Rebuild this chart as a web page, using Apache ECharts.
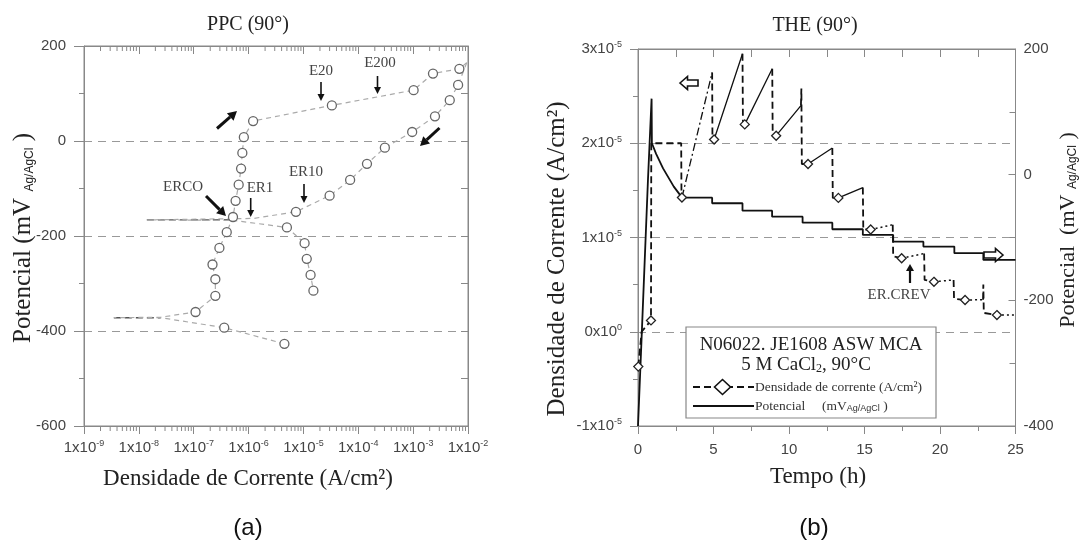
<!DOCTYPE html>
<html><head><meta charset="utf-8">
<script src="https://cdn.jsdelivr.net/npm/echarts@6/dist/echarts.min.js"></script>
<style>html,body{margin:0;padding:0;background:#fff}#c{width:1081px;height:545px}</style>
</head><body><div id="c"></div><script>
// ---------- Panel (a): PPC (90°) ----------
// forward (anodic) scan: current density (A/cm2), potential (mV), marker flag
const fwdI = [4.5e-6, 3.6e-7, 2.5e-8, 3.5e-9, 2.5e-8, 1.08e-7, 2.48e-7, 2.48e-7, 2.2e-7, 2.94e-7, 4.0e-7, 5.2e-7, 5.8e-7, 6.6e-7, 7.3e-7, 7.7e-7, 8.2e-7, 1.21e-6, 3.3e-5, 1.02e-3, 2.3e-3, 6.96e-3, 9.5e-3];
const fwdE = [-427, -393, -372, -372, -371, -360, -326, -291, -260, -225, -192, -160, -126, -92, -58, -25, 8, 42, 75, 107, 142, 152, 165];
const fwdMark = [1, 1, 0, 0, 0, 1, 1, 1, 1, 1, 1, 1, 1, 1, 1, 1, 1, 1, 1, 1, 1, 1, 0];
// reverse scan
const revI = [9.5e-3, 6.6e-3, 4.65e-3, 2.5e-3, 9.6e-4, 3.05e-4, 1.44e-4, 7.1e-5, 3.0e-5, 7.3e-6, 1.23e-6, 1.4e-8, 5.2e-7, 5.0e-6, 1.05e-5, 1.15e-5, 1.35e-5, 1.52e-5];
const revE = [165, 118, 86, 52, 19, -14, -48, -82, -115, -149, -163, -166, -167, -182, -215, -248, -282, -315];
const revMark = [0, 1, 1, 1, 1, 1, 1, 1, 1, 1, 0, 0, 0, 1, 1, 1, 1, 1];
// zero-current crossings (Ecorr and ERCO), drawn darker
const zeroI = [3.5e-9, 2.5e-8, null, 1.4e-8, 4.8e-7];
const zeroE = [-372, -372, null, -166, -166];

// ---------- Panel (b): THE (90°) ----------
// potential vs time (h, mV Ag/AgCl)
const potT = [0, 0.26, 0.66, 0.9, 0.92, 1.2, 1.66, 2.37, 2.92, 4.91, 4.91, 6.92, 6.92, 8.88, 8.88, 10.9, 10.9, 12.87, 12.87, 14.89, 14.89, 16.9, 16.9, 18.9, 18.9, 20.95, 20.95, 22.87, 22.87, 25];
const potE = [-400, -247, -8, 121, 50, 33, 10, -19, -36.6, -36.6, -45.5, -45.5, -57.3, -57.3, -66.8, -66.8, -76.4, -76.4, -86.9, -86.9, -95.9, -95.9, -106.6, -106.6, -114.5, -114.5, -125, -125, -135.7, -135.7];
// current density vs time (h, units of 1e-5 A/cm2): start, steps and drops (dashed); null = gap
const curT = [0.02, 0.24, 0.86, 0.88, 2.86, 2.88, 2.91, null, 4.91, 4.93, 5.04, null, 6.92, 6.95, 7.07, null, 8.89, 8.92, 9.15, null, 10.79, 10.82, 10.85, 11.26, null, 12.87, 12.9, 13.27, null, 14.89, 14.92, 15.41, null, 16.87, 16.9, 17.46, null, 18.95, 18.98, 19.6, null, 20.9, 20.93, 21.66, null, 22.85, 22.87, 22.9, 23.77];
const curI = [-0.37, 0.0, 0.12, 2.0, 2.0, 1.45, 1.424, null, 2.75, 2.04, 2.04, null, 2.95, 2.2, 2.2, null, 2.79, 2.08, 2.08, null, 2.40, 2.58, 1.78, 1.78, null, 1.95, 1.42, 1.42, null, 1.53, 1.085, 1.085, null, 1.135, 0.8, 0.78, null, 0.83, 0.55, 0.53, null, 0.55, 0.35, 0.337, null, 0.34, 0.5, 0.2, 0.177];
const curMark = [1, 0, 1, 0, 0, 0, 1, 0, 0, 0, 1, 0, 0, 0, 1, 0, 0, 0, 1, 0, 0, 0, 0, 1, 0, 0, 0, 1, 0, 0, 0, 1, 0, 0, 0, 1, 0, 0, 0, 1, 0, 0, 0, 1, 0, 0, 0, 0, 1];
// rising segments between hold steps
const riseDashDotT = [2.91, 4.91];
const riseDashDotI = [1.424, 2.75];
const riseSolidT = [5.04, 6.92, null, 7.07, 8.89, null, 9.15, 10.79, null, 11.26, 12.87, null, 13.27, 14.89];
const riseSolidI = [2.04, 2.95, null, 2.2, 2.79, null, 2.08, 2.40, null, 1.78, 1.95, null, 1.42, 1.53];
const riseDotT = [15.41, 16.87, null, 17.46, 18.95, null, 19.6, 20.9, null, 21.66, 22.85, null, 23.77, 25];
const riseDotI = [1.085, 1.135, null, 0.78, 0.83, null, 0.53, 0.55, null, 0.337, 0.34, null, 0.177, 0.177];

const SERIF = 'Liberation Serif';
const SANS = 'Liberation Sans';
const AX = '#888';
const TXT = '#444';

function pts(xs, ys, marks, scale) {
  return xs.map((x, i) => {
    if (x === null || ys[i] === null) return { value: ['-', '-'], symbol: 'none' };
    const d = { value: [x, ys[i] * (scale || 1)] };
    if (!(marks && marks[i])) d.symbol = 'none';
    return d;
  });
}
const minorLog = [];
for (let e = -9; e < -2; e++) for (let m = 2; m <= 9; m++) minorLog.push([m * Math.pow(10, e), -600]);

const supRich = {
  b: { fontFamily: SANS, fontSize: 15, color: TXT },
  s: { fontFamily: SANS, fontSize: 9, color: TXT, verticalAlign: 'top', padding: [0, 0, 8, 0] }
};

function arrow(x1, y1, x2, y2, w, hl, hw) {
  const dx = x2 - x1, dy = y2 - y1, L = Math.hypot(dx, dy), ux = dx / L, uy = dy / L;
  const bx = x2 - ux * hl, by = y2 - uy * hl;
  return [
    { type: 'line', z: 50, shape: { x1, y1, x2: bx, y2: by }, style: { stroke: '#111', lineWidth: w } },
    { type: 'polygon', z: 50, shape: { points: [[x2, y2], [bx - uy * hw, by + ux * hw], [bx + uy * hw, by - ux * hw]] }, style: { fill: '#111' } }
  ];
}
function label(text, x, y, size, font, color, extra) {
  return Object.assign({ type: 'text', z: 50, x, y, style: { text, fontFamily: font, fontSize: size, fill: color, align: 'center', verticalAlign: 'middle' } }, extra || {});
}
const axLine = { onZero: false, lineStyle: { color: AX } };
function riseSeries(xs, ys, type, width) {
  return { type: 'line', xAxisIndex: 2, yAxisIndex: 2, data: pts(xs, ys, null, 1e-5), symbol: 'none',
    connectNulls: false, lineStyle: { color: '#111', width, type }, z: 3 };
}

const chart = echarts.init(document.getElementById('c'), null, { renderer: 'canvas' });
const option = {
  animation: false,
  backgroundColor: '#fff',
  grid: [
    { left: 84, top: 46, width: 384, height: 380, show: true, borderColor: AX, borderWidth: 1 },
    { left: 638, top: 49, width: 377.5, height: 377, show: true, borderColor: AX, borderWidth: 1 }
  ],
  xAxis: [
    { gridIndex: 0, type: 'log', logBase: 10, min: 1e-9, max: 1e-2, position: 'bottom',
      axisLine: axLine, axisTick: { length: 8, lineStyle: { color: AX } },
      splitLine: { show: false },
      axisLabel: { margin: 13, rich: supRich, formatter: v => '{b|1x10}{s|' + Math.round(Math.log10(v)) + '}' } },
    { gridIndex: 0, type: 'log', logBase: 10, min: 1e-9, max: 1e-2, position: 'top',
      axisLine: axLine, axisTick: { inside: true, length: 8, lineStyle: { color: AX } },
      splitLine: { show: false }, axisLabel: { show: false } },
    { gridIndex: 1, type: 'value', min: 0, max: 25, interval: 5, position: 'bottom',
      axisLine: axLine, axisTick: { length: 8, lineStyle: { color: AX } },
      minorTick: { show: true, splitNumber: 2, length: 5, lineStyle: { color: AX } },
      splitLine: { show: false },
      axisLabel: { margin: 16, fontFamily: SANS, fontSize: 15, color: TXT } },
    { gridIndex: 1, type: 'value', min: 0, max: 25, interval: 2.5, position: 'top',
      axisLine: axLine, axisTick: { inside: true, length: 8, lineStyle: { color: AX } },
      splitLine: { show: false }, axisLabel: { show: false } }
  ],
  yAxis: [
    { gridIndex: 0, type: 'value', min: -600, max: 200, interval: 200, position: 'left',
      axisLine: axLine, axisTick: { length: 10, lineStyle: { color: AX } },
      minorTick: { show: true, splitNumber: 2, length: 5, lineStyle: { color: AX } },
      splitLine: { show: true, showMinLine: false, showMaxLine: false, lineStyle: { color: '#999', width: 1.2, type: [8, 6] } },
      axisLabel: { margin: 18, fontFamily: SANS, fontSize: 15, color: TXT } },
    { gridIndex: 0, type: 'value', min: -600, max: 200, interval: 100, position: 'right',
      axisLine: axLine, axisTick: { inside: true, length: 7, lineStyle: { color: AX } },
      splitLine: { show: false }, axisLabel: { show: false } },
    { gridIndex: 1, type: 'value', min: -1e-5, max: 3e-5, interval: 1e-5, position: 'left',
      axisLine: axLine, axisTick: { length: 8, lineStyle: { color: AX } },
      minorTick: { show: true, splitNumber: 2, length: 5, lineStyle: { color: AX } },
      splitLine: { show: true, showMinLine: false, showMaxLine: false, lineStyle: { color: '#999', width: 1.2, type: [8, 6] } },
      axisLabel: { margin: 16, rich: supRich, formatter: v => { const n = Math.round(v / 1e-5); return n === 0 ? '{b|0x10}{s|0}' : '{b|' + n + 'x10}{s|-5}'; } } },
    { gridIndex: 1, type: 'value', min: -400, max: 200, interval: 200, position: 'right',
      axisLine: axLine, axisTick: { inside: true, length: 7, lineStyle: { color: AX } },
      minorTick: { show: true, splitNumber: 2, length: 6, lineStyle: { color: AX } },
      splitLine: { show: false },
      axisLabel: { margin: 8, fontFamily: SANS, fontSize: 15, color: TXT } }
  ],
  series: [
    { type: 'custom', xAxisIndex: 0, yAxisIndex: 0, silent: true, clip: false, data: minorLog, z: 5,
      renderItem: (p, api) => {
        const v = api.value(0);
        const b = api.coord([v, -600]), t = api.coord([v, 200]);
        return { type: 'group', children: [
          { type: 'line', shape: { x1: b[0], y1: b[1], x2: b[0], y2: b[1] + 5 }, style: { stroke: AX, lineWidth: 1 } },
          { type: 'line', shape: { x1: t[0], y1: t[1], x2: t[0], y2: t[1] + 5 }, style: { stroke: AX, lineWidth: 1 } }
        ] };
      } },
    { name: 'zero', type: 'line', xAxisIndex: 0, yAxisIndex: 0, data: pts(zeroI, zeroE, null), symbol: 'none',
      connectNulls: false, lineStyle: { color: '#555', width: 1.5, type: [7, 4] }, z: 3 },
    { name: 'forward', type: 'line', xAxisIndex: 0, yAxisIndex: 0, data: pts(fwdI, fwdE, fwdMark),
      symbol: 'circle', symbolSize: 9, showSymbol: true,
      lineStyle: { color: '#aaa', width: 1.2, type: [5, 4] },
      itemStyle: { color: '#fff', borderColor: '#666', borderWidth: 1.3 } },
    { name: 'reverse', type: 'line', xAxisIndex: 0, yAxisIndex: 0, data: pts(revI, revE, revMark),
      symbol: 'circle', symbolSize: 9, showSymbol: true,
      lineStyle: { color: '#aaa', width: 1.2, type: [5, 4] },
      itemStyle: { color: '#fff', borderColor: '#666', borderWidth: 1.3 } },
    { name: 'Potencial', type: 'line', xAxisIndex: 2, yAxisIndex: 3, data: pts(potT, potE, null),
      symbol: 'none', lineStyle: { color: '#111', width: 1.8 } },
    riseSeries(riseDashDotT, riseDashDotI, [8, 3, 2, 3], 1.3),
    riseSeries(riseSolidT, riseSolidI, 'solid', 1.3),
    riseSeries(riseDotT, riseDotI, [2, 3], 1.5),
    { name: 'Densidade de corrente', type: 'line', xAxisIndex: 2, yAxisIndex: 2, data: pts(curT, curI, curMark, 1e-5),
      symbol: 'diamond', symbolSize: 9, showSymbol: true, connectNulls: false, z: 4,
      lineStyle: { color: '#111', width: 1.8, type: [7, 4] },
      itemStyle: { color: '#fff', borderColor: '#222', borderWidth: 1.3 } }
  ],
  graphic: [
    label('PPC (90°)', 248, 25, 20, SERIF, '#222'),
    label('THE (90°)', 815, 26, 20, SERIF, '#222'),
    label('Densidade de Corrente (A/cm²)', 248, 479, 23, SERIF, '#222'),
    label('Tempo (h)', 818, 477, 23, SERIF, '#222'),
    label('(a)', 248, 528, 24, SANS, '#111'),
    label('(b)', 814, 528, 24, SANS, '#111'),
    { type: 'text', z: 50, x: 23, y: 238, rotation: Math.PI / 2,
      style: { text: '{t|Potencial (mV }{s|Ag/AgCl}{t| )}', align: 'center', verticalAlign: 'middle',
        rich: { t: { fontFamily: SERIF, fontSize: 25, fill: '#222' }, s: { fontFamily: SANS, fontSize: 12, fill: '#222', verticalAlign: 'bottom' } } } },
    { type: 'text', z: 50, x: 557, y: 259, rotation: Math.PI / 2,
      style: { text: 'Densidade de Corrente (A/cm²)', fontFamily: SERIF, fontSize: 25, fill: '#222', align: 'center', verticalAlign: 'middle' } },
    { type: 'text', z: 50, x: 1068, y: 230, rotation: Math.PI / 2,
      style: { text: '{t|Potencial  (mV }{s|Ag/AgCl}{t| )}', align: 'center', verticalAlign: 'middle',
        rich: { t: { fontFamily: SERIF, fontSize: 22, fill: '#222' }, s: { fontFamily: SANS, fontSize: 12, fill: '#222', verticalAlign: 'bottom' } } } },
    // panel (a) annotations
    label('E20', 321, 71, 15, SERIF, TXT),
    label('E200', 380, 63, 15, SERIF, TXT),
    label('ERCO', 183, 187, 15, SERIF, TXT),
    label('ER1', 260, 188, 15, SERIF, TXT),
    label('ER10', 306, 172, 15, SERIF, TXT),
    ...arrow(321, 82, 321, 101, 1.6, 7, 3.5),
    ...arrow(377.5, 76, 377.5, 94, 1.6, 7, 3.5),
    ...arrow(250.7, 198, 250.7, 217, 1.6, 7, 3.5),
    ...arrow(304, 184, 304, 203, 1.6, 7, 3.5),
    ...arrow(206, 196, 226, 216, 3, 9, 5),
    ...arrow(217, 128.5, 237, 111, 3, 9, 5),
    ...arrow(439.5, 128, 420, 146, 3, 9, 5),
    // panel (b) annotations
    label('ER.CREV', 899, 295, 15, SERIF, TXT),
    ...arrow(910, 283, 910, 264, 2.2, 7, 4),
    { type: 'polygon', z: 50, shape: { points: [[680, 83], [687.5, 76.5], [687.5, 80], [698, 80], [698, 86], [687.5, 86], [687.5, 89.5]] }, style: { fill: '#fff', stroke: '#111', lineWidth: 1.6 } },
    { type: 'polygon', z: 50, shape: { points: [[1003, 255], [995.5, 248.5], [995.5, 252], [984, 252], [984, 258], [995.5, 258], [995.5, 261.5]] }, style: { fill: '#fff', stroke: '#111', lineWidth: 1.6 } },
    // legend box
    { type: 'rect', z: 40, shape: { x: 686, y: 327, width: 250, height: 91 }, style: { fill: '#fff', stroke: AX, lineWidth: 1.2 } },
    label('N06022. JE1608 ASW MCA', 811, 345, 19, SERIF, '#222'),
    { type: 'text', z: 50, x: 806, y: 365,
      style: { text: '{t|5 M CaCl}{s|2}{t|, 90°C}', align: 'center', verticalAlign: 'middle',
        rich: { t: { fontFamily: SERIF, fontSize: 19, fill: '#222' }, s: { fontFamily: SERIF, fontSize: 12, fill: '#222', verticalAlign: 'bottom' } } } },
    { type: 'line', z: 50, shape: { x1: 693, y1: 387, x2: 754, y2: 387 }, style: { stroke: '#111', lineWidth: 2, lineDash: [7, 4] } },
    { type: 'polygon', z: 51, shape: { points: [[722.5, 379.5], [730.5, 387], [722.5, 394.5], [714.5, 387]] }, style: { fill: '#fff', stroke: '#111', lineWidth: 1.6 } },
    { type: 'text', z: 50, x: 755, y: 387, style: { text: 'Densidade de corrente (A/cm²)', fontFamily: SERIF, fontSize: 13.5, fill: '#333', align: 'left', verticalAlign: 'middle' } },
    { type: 'line', z: 50, shape: { x1: 693, y1: 406, x2: 754, y2: 406 }, style: { stroke: '#111', lineWidth: 1.8 } },
    { type: 'text', z: 50, x: 755, y: 406,
      style: { text: '{t|Potencial     (mV}{s|Ag/AgCl}{t| )}', align: 'left', verticalAlign: 'middle',
        rich: { t: { fontFamily: SERIF, fontSize: 13.5, fill: '#333' }, s: { fontFamily: SANS, fontSize: 9, fill: '#333', verticalAlign: 'bottom' } } } }
  ]
};
chart.setOption(option);
</script></body></html>
